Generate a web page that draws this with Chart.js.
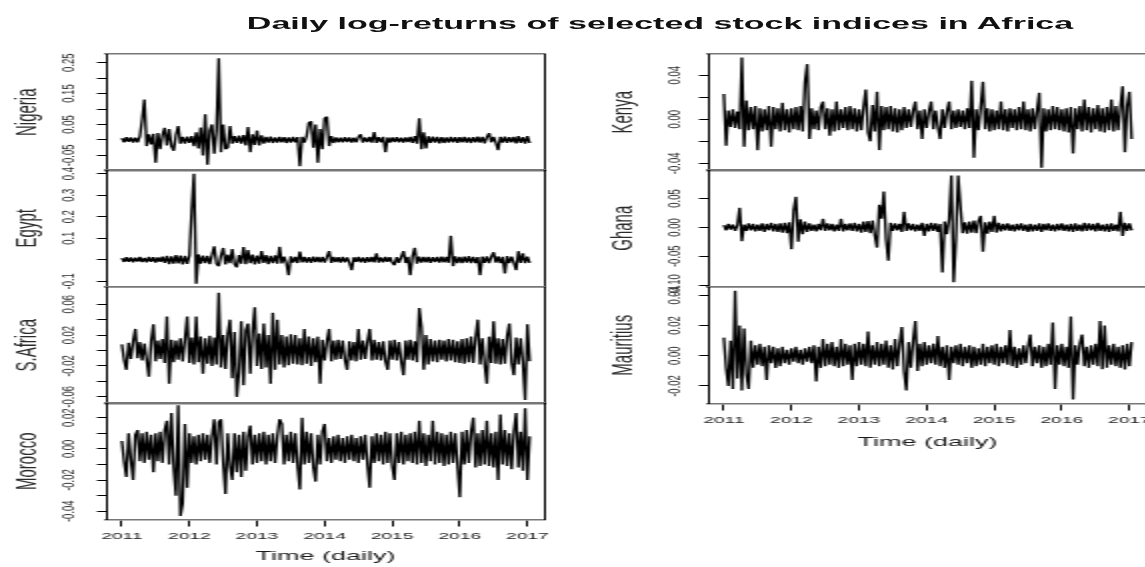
<!DOCTYPE html>
<html>
<head>
<meta charset="utf-8">
<title>Daily log-returns of selected stock indices in Africa</title>
<script src="https://cdn.jsdelivr.net/npm/chart.js@4.4.1/dist/chart.umd.min.js"></script>
<style>
  html, body { margin: 0; padding: 0; background: #fff; width: 1145px; height: 567px; overflow: hidden; }
  /* the figure is stretched ~2x sideways, so it is drawn at half width and scaled */
  #stage { position: absolute; left: 0; top: 0; width: 575px; height: 567px; transform: scaleX(2); transform-origin: 0 0; }
  #stage canvas { position: absolute; }
  #title { position: absolute; left: 0; top: 14px; width: 660px; text-align: center; white-space: nowrap;
           font: bold 17px 'Liberation Sans', Arial, sans-serif; line-height: 20px; color: #111; }
</style>
</head>
<body>
<div id="stage"><div id="title">Daily log-returns of selected stock indices in Africa</div></div>
<script>
// Series: one reading every 1/30 year from Jan 2011, log-returns in thousandths
const SERIES_START = 2011;
const PER_YEAR = 30;

const NIGERIA = [
  6, -8, 9, -6, 8, -9, 7, -8, 12, 65, 131, -20, 18, -15, 20, -74, 22, -30, 15, 39, -18, 35, -20, -35, 16, 45, -12, 10, -12, 11,
  -10, 12, -20, 25, -28, 40, -50, 83, -80, 30, 50, -45, 30, 264, -40, 50, -30, -25, 45, -12, 12, -10, 14, -12, 16, -18, 42, -40, 18, -16,
  30, -18, 15, -12, 10, -9, 11, -10, 8, -9, 10, -8, 9, -10, 8, -9, 10, -8, 9, -85, 10, -9, 12, 55, 60, -25, 50, -74, 35, -30,
  70, 75, -20, 12, -10, 8, -8, 7, -8, 9, -7, 8, -9, 7, -8, 9, 18, -9, 8, -7, 10, -9, 25, -10, 9, -8, 10, -40, 8, -9,
  8, -7, 9, -8, 7, -9, 8, -7, 10, -10, 12, -12, 70, -30, 25, -28, 12, -10, 11, -9, 10, -11, 9, -10, 8, -9, 10, -8, 9, -10,
  9, -8, 10, -9, 8, -10, 9, -8, 11, -9, 10, -11, 9, 22, -8, 10, -9, -33, 10, -9, 11, -10, 9, -8, 10, -11, 12, -10, 9, -12,
  12, -10
];
const EGYPT = [
  8, -10, 12, -9, 11, -12, 10, -8, 13, -11, 9, -12, 14, -10, 12, -13, 11, -9, 15, -14, 18, -20, 16, -18, 22, -17, 20, -22, 18, -19,
  20, 230, 400, -111, 25, -18, 20, -16, 18, -20, 22, 63, -18, -30, 20, 55, -22, 24, -16, 50, -20, -35, 22, -18, 59, -20, 45, -16, 24, -22,
  20, -18, 40, -15, 22, -20, 18, -16, 21, -18, 60, -17, 15, -14, -71, 16, -13, 14, -15, 38, -12, 14, -13, 12, -14, 15, -11, 13, -12, 14,
  -13, 12, 40, -14, 13, -11, 12, -13, 14, -12, 11, -13, -48, 12, -10, 13, -12, 11, -14, 12, -11, 13, -12, 30, -13, 11, -12, 14, -10, 12,
  -13, -25, 12, -14, 13, 40, -15, 14, -71, 16, 56, -18, 15, -13, 14, -12, 13, -14, 12, -11, 14, -13, 15, -12, 13, -14, 111, -30, 16, -15,
  14, -16, 15, -13, 17, -15, 14, -16, 13, -71, 15, -14, 16, -15, 14, 35, -13, 16, -15, 14, -63, 17, -16, 15, -14, -48, 40, -15, 30, -16,
  15, -14
];
const SAFRICA = [
  8, -12, -25, 10, -11, 12, 28, -10, 11, -13, 9, -12, -34, 12, 34, -14, 13, -11, 15, -16, 44, -43, 14, -15, 13, -12, 16, -14, 15, 44,
  -16, 17, -18, 44, -15, 18, -30, 16, -17, 19, -20, 17, -18, 75, -22, 20, -24, 22, 40, -36, 24, -60, -28, 38, -45, 26, 35, -30, 24, 56,
  -20, 22, -24, 35, -22, 20, -43, 49, -25, 40, -18, 20, -22, 18, -19, 21, -17, 20, -18, 16, -19, 28, -17, 18, -20, 16, -15, 18, -43, 14,
  -13, 12, 28, -14, 13, -12, 14, -11, 13, -12, -25, 12, -13, 11, -14, 28, -12, 13, -11, 12, 28, -13, 14, -12, 11, -13, 12, -14, -25, 13,
  -12, 14, -13, 11, -14, -32, 13, -12, 14, -13, 12, -15, 55, 30, -25, 20, -18, 15, -14, 13, -15, 14, -12, 13, -14, 15, -13, 14, -15, 12,
  -16, 15, -17, 16, -15, 18, -16, 17, 40, -18, 16, -17, -43, 18, -16, 38, -17, 16, -18, 15, -17, 19, 35, -16, -32, 17, -18, 16, -15, -64,
  34, -14
];
const MOROCCO = [
  5, -8, -18, 10, -7, -20, 9, 12, -8, 10, -9, 11, -7, 9, -15, 10, -8, 11, -9, 12, 18, -10, 23, -12, -30, 28, -43, -35, 16, -25,
  10, -9, 8, -10, 9, -8, 10, -7, 9, -9, 8, 19, -10, 17, 19, -9, -29, 10, -11, -20, 10, -15, 9, -18, 11, -14, 8, 15, -10, 9,
  -9, 10, -8, 11, -10, 9, -8, 10, -9, 8, 19, 16, -10, 9, -8, 11, -9, 10, -11, -26, 20, -10, 11, -9, 10, -12, -21, 9, -10, 11,
  16, -8, 7, -9, 8, -7, 9, -8, 7, -9, 8, -7, 9, -8, 7, -9, 8, -7, 9, -10, -25, 8, -9, 10, -8, 9, -10, 11, -9, 10,
  -11, -20, 10, -9, 11, -10, 9, -8, 10, -9, 11, -10, 18, -9, 10, -11, 9, -8, 18, -10, 11, -9, 10, -11, 9, -10, 11, -9, 10, -11,
  -31, 11, -10, 12, -9, 11, 20, -12, 10, -11, 12, -10, 18, -11, 10, -12, 11, -20, 22, -10, 12, -11, 10, -13, 11, 23, -12, 11, -14, 26,
  -20, 8
];
const KENYA = [
  23, -24, 8, -7, 9, -8, 7, -9, 56, -25, 17, -10, 11, -9, 12, -28, 10, -11, 9, -10, 12, -25, 11, -9, 10, -11, 15, -10, 9, -12,
  10, -9, 11, -10, 12, -11, 34, 50, -18, 10, -9, 8, -10, 11, 16, -9, 10, -15, 9, -11, 16, -10, 9, -8, 11, -10, 12, -9, 10, -11,
  9, -10, 11, 27, -12, -20, 13, -11, 25, -28, 12, -10, 11, -9, 12, -11, 10, -12, 9, -10, 11, -8, 9, -7, 8, 16, -9, 8, -18, 9,
  -8, 7, 16, -9, 8, -7, -18, 9, -8, 7, 16, -9, 8, -8, 9, -7, 8, -9, 10, -8, 35, -35, 9, -10, 11, 34, -9, 10, -11, 9,
  -10, 8, -9, 16, -10, 9, -11, 10, -8, 9, -10, 11, -9, 16, -10, 9, -11, 10, -9, 8, 24, -44, 10, -11, 9, -10, 12, -9, 11, -10,
  9, -11, 10, -12, 11, -31, 10, -9, 12, -11, 18, -10, 11, -12, 10, -9, 13, -11, 10, -12, 11, -10, 18, -11, 12, -10, 11, 30, -30, 12,
  25, -18
];
const GHANA = [
  4, -5, 6, -4, 5, -6, 4, 34, -24, 5, -6, 7, -5, 6, -7, 5, -6, 7, -8, 6, -5, 8, -7, 6, -8, 7, -9, 8, -10, 9,
  -38, 30, 53, -25, 14, -12, 10, -8, 7, -6, 5, -7, 6, -5, 15, -6, 7, -5, 6, -7, 5, -6, 15, -7, 6, -5, 7, -6, 8, -7,
  6, -9, 10, -8, 11, -10, 12, -14, -35, 39, 15, 62, -20, -58, 8, -6, 7, -5, 6, -8, 27, -6, 7, -5, 6, -7, 5, -6, 8, -15,
  6, -7, 8, -6, 7, -8, 6, -78, 10, -12, 15, 90, -95, -20, 90, 36, -10, 9, -11, 10, -9, 12, -10, 11, 20, -42, 9, -11, 10, -8,
  20, -9, 8, -7, 6, -5, 7, -6, 5, -7, 6, -5, 7, -6, 5, -8, 6, -7, 5, -6, 7, -8, 6, -5, 7, -6, 5, -7, 6, -5,
  7, -6, 5, -7, 6, -8, 7, -6, 5, -7, 8, -6, 7, -5, 6, -7, 8, -6, 5, -7, 6, -8, 7, -6, 5, -7, 27, -15, 8, -6,
  7, -5
];
const MAURITIUS = [
  12, -8, -20, 10, -22, 43, -15, 20, -23, 18, -12, -22, 10, -8, 7, -6, 8, -7, 6, -16, 7, -5, 6, -8, 5, -7, 6, -5, 4, -6,
  5, -4, 6, -5, 4, -6, 5, -4, 6, -5, 7, -17, 6, -8, 11, -7, 8, -6, 9, -7, 6, -8, 11, -7, 8, -6, 7, -16, 8, -7,
  9, -6, 8, -7, 16, -8, 7, -6, 9, -7, 8, -6, 10, -8, 7, -9, 11, -7, 8, 19, -10, -23, 9, -8, 10, 23, -10, 8, -7, 9,
  -6, 7, -5, 8, -6, 13, -7, 6, -8, 7, -16, 6, -5, 7, -6, 8, -7, 6, -5, 7, -8, 6, -7, 5, -6, 8, -7, 6, -5, 7,
  -6, 8, -7, 6, -5, 7, -6, 17, -7, 6, -8, 5, -6, 7, -5, 6, 14, -7, 6, -5, 7, -8, 6, -7, 8, -6, 22, -22, 7, -6,
  8, -7, 6, -8, 26, -29, 7, -6, 8, 14, -7, 6, -8, 7, -6, 8, -7, 23, -9, 20, -8, 7, -6, 8, -7, 6, -8, 7, -9, 8,
  -7, 9
];

// Axis ticks and the labels R kept (others dropped for overlap)
const X_TICKS = [2011, 2012, 2013, 2014, 2015, 2016, 2017];
const X_LABELS = ['2011', '2012', '2013', '2014', '2015', '2016', '2017'];
const X_TITLE = 'Time (daily)';

const NIGERIA_TICKS = [-0.05, 0, 0.05, 0.1, 0.15, 0.2, 0.25];
const NIGERIA_LABELS = ['-0.05', '', '0.05', '', '0.15', '', '0.25'];
const EGYPT_TICKS = [-0.1, 0, 0.1, 0.2, 0.3, 0.4];
const EGYPT_LABELS = ['-0.1', '', '0.1', '0.2', '0.3', '0.4'];
const SAFRICA_TICKS = [-0.06, -0.04, -0.02, 0, 0.02, 0.04, 0.06];
const SAFRICA_LABELS = ['-0.06', '', '-0.02', '', '0.02', '', '0.06'];
const MOROCCO_TICKS = [-0.04, -0.03, -0.02, -0.01, 0, 0.01, 0.02];
const MOROCCO_LABELS = ['-0.04', '', '-0.02', '', '0.00', '', '0.02'];
const KENYA_TICKS = [-0.04, -0.02, 0, 0.02, 0.04];
const KENYA_LABELS = ['-0.04', '', '0.00', '', '0.04'];
const GHANA_TICKS = [-0.1, -0.05, 0, 0.05];
const GHANA_LABELS = ['-0.10', '-0.05', '0.00', '0.05'];
const MAURITIUS_TICKS = [-0.02, 0, 0.02, 0.04];
const MAURITIUS_LABELS = ['-0.02', '0.00', '0.02', '0.04'];

// Layout (half-width units, see #stage)
const X_MIN = 2010.765, X_MAX = 2017.26;
const PANEL_TOP = 53.5, PANEL_H = 116.5, EDGE = 14, X_AXIS_H = 47.5;
const COLS = [
  { left: 0,   width: 280, axisW: 53, padRight: 7.5, nameOffset: 4.4, titlePad: 3 },
  { left: 290, width: 285, axisW: 64, padRight: 1.5, nameOffset: 12.8, titlePad: 1 }
];

const PANELS = [
  { name: 'Nigeria',   values: NIGERIA,   col: 0, row: 0, min: -0.099,  max: 0.278,  ticks: NIGERIA_TICKS,   labels: NIGERIA_LABELS,   pad: 3.7 },
  { name: 'Egypt',     values: EGYPT,     col: 0, row: 1, min: -0.124,  max: 0.417,  ticks: EGYPT_TICKS,     labels: EGYPT_LABELS,     pad: 6.3 },
  { name: 'S.Africa',  values: SAFRICA,   col: 0, row: 2, min: -0.0686, max: 0.0823, ticks: SAFRICA_TICKS,   labels: SAFRICA_LABELS,   pad: 3.7 },
  { name: 'Morocco',   values: MOROCCO,   col: 0, row: 3, min: -0.0453, max: 0.0294, ticks: MOROCCO_TICKS,   labels: MOROCCO_LABELS,   pad: 3.7, bottom: true },
  { name: 'Kenya',     values: KENYA,     col: 1, row: 0, min: -0.0465, max: 0.0592, ticks: KENYA_TICKS,     labels: KENYA_LABELS,     pad: 1.2 },
  { name: 'Ghana',     values: GHANA,     col: 1, row: 1, min: -0.1025, max: 0.0995, ticks: GHANA_TICKS,     labels: GHANA_LABELS,     pad: 1.2 },
  { name: 'Mauritius', values: MAURITIUS, col: 1, row: 2, min: -0.0316, max: 0.0455, ticks: MAURITIUS_TICKS, labels: MAURITIUS_LABELS, pad: 1.2, bottom: true }
];

Chart.defaults.font.family = "'Liberation Sans', Arial, sans-serif";

/** Box-only scale (top / right edges of an R panel) */
function edgeScale(position, color, width) {
  return {
    type: 'linear', position, min: 0, max: 1, display: true,
    ticks: { display: false }, grid: { display: false },
    border: { display: true, color, width },
    afterFit: s => {
      if (position === 'top') s.height = 0; else s.width = 0;
      s.paddingLeft = s.paddingRight = s.paddingTop = s.paddingBottom = 0;
    }
  };
}

function buildPanel(p) {
  const c = COLS[p.col];
  const h = p.bottom ? EDGE + PANEL_H + X_AXIS_H : 145;
  const canvas = document.createElement('canvas');
  canvas.width = c.width;
  canvas.height = h;
  canvas.style.left = c.left + 'px';
  canvas.style.top = (PANEL_TOP + p.row * PANEL_H - EDGE) + 'px';
  canvas.style.width = c.width + 'px';
  canvas.style.height = h + 'px';
  document.getElementById('stage').appendChild(canvas);

  const points = p.values.map((v, i) => ({ x: SERIES_START + i / PER_YEAR, y: v / 1000 }));

  return new Chart(canvas, {
    type: 'line',
    data: {
      datasets: [{
        data: points, xAxisID: 'x', yAxisID: 'y',
        borderColor: '#000', borderWidth: 1.35, borderJoinStyle: 'bevel',
        pointRadius: 0, tension: 0, fill: false
      }]
    },
    options: {
      responsive: false,
      animation: false,
      events: [],
      layout: { padding: { left: 0, top: EDGE, right: c.padRight, bottom: h - EDGE - PANEL_H - (p.bottom ? X_AXIS_H : 0) } },
      plugins: { legend: { display: false }, tooltip: { enabled: false } },
      scales: {
        x: {
          type: 'linear', position: 'bottom', min: X_MIN, max: X_MAX,
          afterBuildTicks: s => { s.ticks = X_TICKS.map(v => ({ value: v })); },
          afterFit: s => { s.height = p.bottom ? X_AXIS_H : 0; s.paddingLeft = 0; s.paddingRight = 0; },
          ticks: { display: !!p.bottom, autoSkip: false, maxRotation: 0, padding: 4.4,
                   font: { size: 9.6 }, color: '#1a1a1a', callback: (v, i) => X_LABELS[i] },
          grid: { display: !!p.bottom, drawOnChartArea: false, tickLength: 7, color: '#000' },
          border: { display: true, color: '#777', width: 1.5 },
          title: { display: !!p.bottom, text: X_TITLE, font: { size: 13.5 }, color: '#1a1a1a',
                   padding: { top: 0, bottom: c.titlePad } }
        },
        xTop: edgeScale('top', '#777', 1.5),
        y: {
          type: 'linear', position: 'left', min: p.min, max: p.max,
          afterBuildTicks: s => { s.ticks = p.ticks.map(v => ({ value: v })); },
          afterFit: s => { s.width = c.axisW; s.paddingTop = 0; s.paddingBottom = 0; },
          ticks: { autoSkip: false, minRotation: 90, maxRotation: 90, crossAlign: 'center', padding: p.pad,
                   font: { size: 9.5 }, color: '#2a2a2a', callback: (v, i) => p.labels[i] },
          grid: { drawOnChartArea: false, tickLength: 4.5, color: '#000' },
          border: { display: true, color: '#000', width: 1 },
          title: { display: true, text: p.name, font: { size: 15 }, color: '#2a2a2a',
                   padding: { top: c.nameOffset, bottom: 0 } }
        },
        yRight: edgeScale('right', '#000', 1)
      }
    }
  });
}

PANELS.forEach(buildPanel);
</script>
</body>
</html>
